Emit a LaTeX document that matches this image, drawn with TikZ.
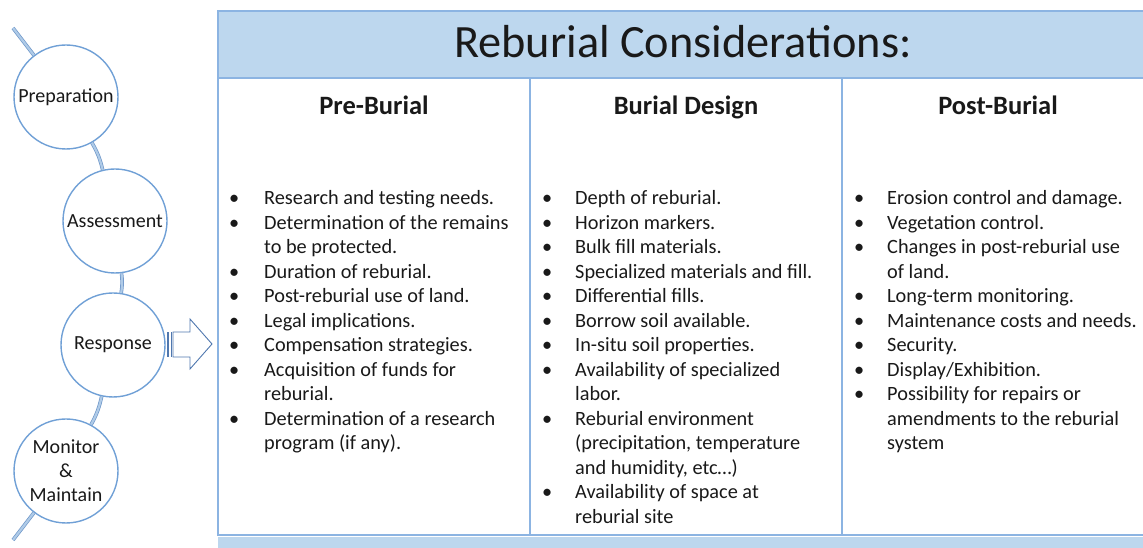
\documentclass[tikz,border=0pt]{standalone}
\usepackage{fontspec}
\setmainfont{Carlito}
\usetikzlibrary{positioning}
\definecolor{circleBlue}{RGB}{112,160,214}
\definecolor{lineBlue}{RGB}{140,180,226}
\definecolor{headBlue}{RGB}{189,215,238}
\definecolor{linkEdge}{RGB}{110,150,200}
\definecolor{linkFill}{RGB}{175,203,232}
\definecolor{arrowBlue}{RGB}{80,120,175}
\definecolor{textGray}{RGB}{25,25,25}

\begin{document}
\begin{tikzpicture}[x=1pt,y=1pt,
    stage/.style={circle, draw=circleBlue, line width=1.4pt, fill=white, minimum size=104pt, inner sep=0pt, align=center, font=\fontsize{20}{24}\selectfont, text=textGray},
    link/.style={draw=linkEdge, line width=0.7pt, double=linkFill, double distance=2.2pt},
    heading/.style={anchor=base, inner sep=0pt, font=\fontsize{26.5}{30}\selectfont\bfseries, text=textGray},
    itemList/.style={anchor=base west, inner sep=0pt, font=\fontsize{20.3}{24.5}\selectfont, text=textGray}]
    \useasboundingbox (0,0) rectangle (1143,548);
    \clip (0,0) rectangle (1143,548);
    % stages along the arc
    \coordinate (topEnd) at (13,520);
    \coordinate (bottomEnd) at (13,8);
    \node[stage] (prepCircle) at (66,451) {Preparation};
    \node[stage] (assessCircle) at (115,327) {Assessment};
    \node[stage] (responseCircle) at (113,203) {Response};
    \node[stage] (monitorCircle) at (66,77) {Monitor\\\&\\Maintain};
    \draw[link] (topEnd) -- (prepCircle);
    \draw[link] (prepCircle) to[bend left=8] (assessCircle);
    \draw[link] (assessCircle) to[bend left=8] (responseCircle);
    \draw[link] (responseCircle) to[bend left=8] (monitorCircle);
    \draw[link] (monitorCircle) -- (bottomEnd);
    % striped arrow
    \fill[arrowBlue] (167,191) rectangle (169,216);
    \fill[arrowBlue] (170.5,191) rectangle (172,216);
    \draw[arrowBlue, line width=0.9pt, fill=white] (173,216) -- (190,216) -- (190,229) -- (212,204) -- (190,179) -- (190,191) -- (173,191) -- cycle;
    % table
    \fill[headBlue] (218,470) rectangle (1150,537);
    \fill[headBlue] (218,0) rectangle (1150,11);
    \draw[lineBlue, line width=1.2pt] (218,13) rectangle (1150,537);
    \draw[lineBlue, line width=1.2pt] (218,470) -- (1150,470);
    \draw[lineBlue, line width=1.2pt] (530,13) -- (530,470);
    \draw[lineBlue, line width=1.2pt] (842,13) -- (842,470);
    \node[anchor=base, inner sep=0pt, font=\fontsize{46.3}{50}\selectfont, text=textGray] (titleText) at (683,490) {Reburial Considerations:};
    \node[heading] (preHead) at (374,433) {Pre-Burial};
    \node[heading] (designHead) at (686,433) {Burial Design};
    \node[heading] (postHead) at (998,433) {Post-Burial};
    \node[itemList] (preList) at (229,343) {\begin{tabular}[t]{@{}p{35pt}@{}l@{}}
        \textbullet & Research and testing needs.\\
        \textbullet & Determination of the remains\\
                    & to be protected.\\
        \textbullet & Duration of reburial.\\
        \textbullet & Post-reburial use of land.\\
        \textbullet & Legal implications.\\
        \textbullet & Compensation strategies.\\
        \textbullet & Acquisition of funds for\\
                    & reburial.\\
        \textbullet & Determination of a research\\
                    & program (if any).
      \end{tabular}};
    \node[itemList] (designList) at (542,343) {\begin{tabular}[t]{@{}p{33pt}@{}l@{}}
        \textbullet & Depth of reburial.\\
        \textbullet & Horizon markers.\\
        \textbullet & Bulk fill materials.\\
        \textbullet & Specialized materials and fill.\\
        \textbullet & Differential fills.\\
        \textbullet & Borrow soil available.\\
        \textbullet & In-situ soil properties.\\
        \textbullet & Availability of specialized\\
                    & labor.\\
        \textbullet & Reburial environment\\
                    & (precipitation, temperature\\
                    & and humidity, etc…)\\
        \textbullet & Availability of space at\\
                    & reburial site
      \end{tabular}};
    \node[itemList] (postList) at (854,343) {\begin{tabular}[t]{@{}p{33pt}@{}l@{}}
        \textbullet & Erosion control and damage.\\
        \textbullet & Vegetation control.\\
        \textbullet & Changes in post-reburial use\\
                    & of land.\\
        \textbullet & Long-term monitoring.\\
        \textbullet & Maintenance costs and needs.\\
        \textbullet & Security.\\
        \textbullet & Display/Exhibition.\\
        \textbullet & Possibility for repairs or\\
                    & amendments to the reburial\\
                    & system
      \end{tabular}};
  \end{tikzpicture}
\end{document}
